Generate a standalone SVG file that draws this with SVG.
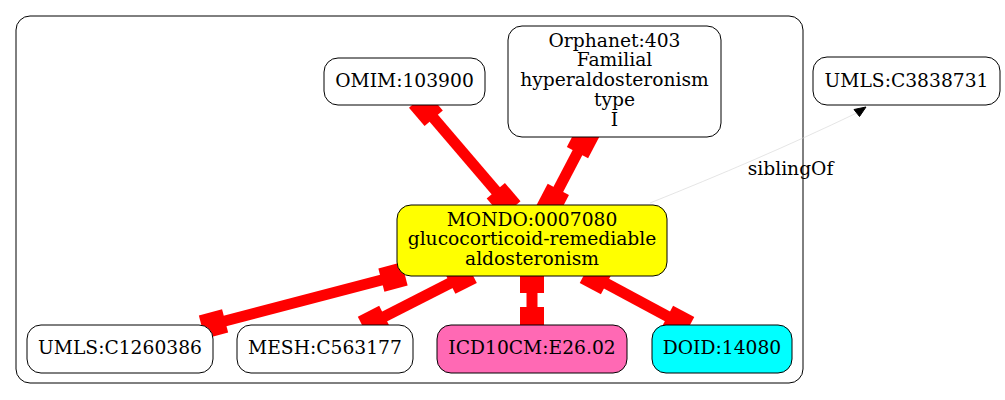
<svg xmlns="http://www.w3.org/2000/svg" width="1005" height="400" viewBox="0 0 1005 400">
<style>
.node rect{stroke:#000;stroke-width:1;fill:#fff}
text{font-family:"DejaVu Serif","Liberation Serif",serif;font-size:18.7px;fill:#000;text-anchor:middle}
.edge{stroke:#ff0000;stroke-width:11;fill:none;marker-start:url(#box);marker-end:url(#box)}
</style>
<defs>
<marker id="box" viewBox="-20 -14 28 28" refX="0" refY="0" markerWidth="28" markerHeight="28" markerUnits="userSpaceOnUse" orient="auto-start-reverse" overflow="visible">
<rect x="-18" y="-12" width="24" height="24" fill="#ff0000"/>
</marker>
</defs>
<rect width="1005" height="400" fill="#fff"/>
<g id="cluster">
<rect x="16" y="16" width="787" height="367" rx="14" fill="none" stroke="#000" stroke-width="1"/>
</g>
<g id="connectors">
<line class="edge" x1="422" y1="104.5" x2="507.5" y2="204.5"/>
<line class="edge" x1="585.8" y1="136.7" x2="550" y2="205.3"/>
<line class="edge" x1="398.8" y1="275.5" x2="207.7" y2="325.5"/>
<line class="edge" x1="466" y1="275" x2="368.6" y2="324.7"/>
<line class="edge" x1="532" y1="275" x2="532" y2="325"/>
<line class="edge" x1="590.7" y1="275.2" x2="683.3" y2="324.8"/>
<path d="M650,203 C720,175 790,145 856.7,113" fill="none" stroke="#d3d3d3" stroke-width="0.6"/>
<polygon points="866,107 854,109.5 859.5,116.5" fill="#000" stroke="#000" stroke-width="1"/>
<text x="790.5" y="175">siblingOf</text>
</g>
<g id="OMIM_103900" class="node">
<rect x="324" y="58" width="161" height="47" rx="14"/>
<text x="404.5" y="87">OMIM:103900</text>
</g>
<g id="Orphanet_403" class="node">
<rect x="508" y="26" width="213" height="111" rx="14"/>
<text x="614.5" y="46.5">Orphanet:403</text>
<text x="614.5" y="66.3">Familial</text>
<text x="614.5" y="86.1">hyperaldosteronism</text>
<text x="614.5" y="105.9">type</text>
<text x="614.5" y="125.7">I</text>
</g>
<g id="UMLS_C3838731" class="node">
<rect x="813" y="57" width="187" height="48" rx="14"/>
<text x="906.5" y="87">UMLS:C3838731</text>
</g>
<g id="MONDO_0007080" class="node">
<rect x="397" y="205" width="270" height="71" rx="14" style="fill:#ffff00"/>
<text x="532" y="225.5">MONDO:0007080</text>
<text x="532" y="245">glucocorticoid-remediable</text>
<text x="532" y="264.5">aldosteronism</text>
</g>
<g id="UMLS_C1260386" class="node">
<rect x="27" y="325" width="186" height="48" rx="14"/>
<text x="120" y="354">UMLS:C1260386</text>
</g>
<g id="MESH_C563177" class="node">
<rect x="237" y="325" width="176" height="48" rx="14"/>
<text x="325" y="354">MESH:C563177</text>
</g>
<g id="ICD10CM_E26.02" class="node">
<rect x="437" y="325" width="190" height="48" rx="14" style="fill:#ff69b4"/>
<text x="532" y="354">ICD10CM:E26.02</text>
</g>
<g id="DOID_14080" class="node">
<rect x="652" y="325" width="140" height="48" rx="14" style="fill:#00ffff"/>
<text x="722" y="354">DOID:14080</text>
</g>
</svg>
